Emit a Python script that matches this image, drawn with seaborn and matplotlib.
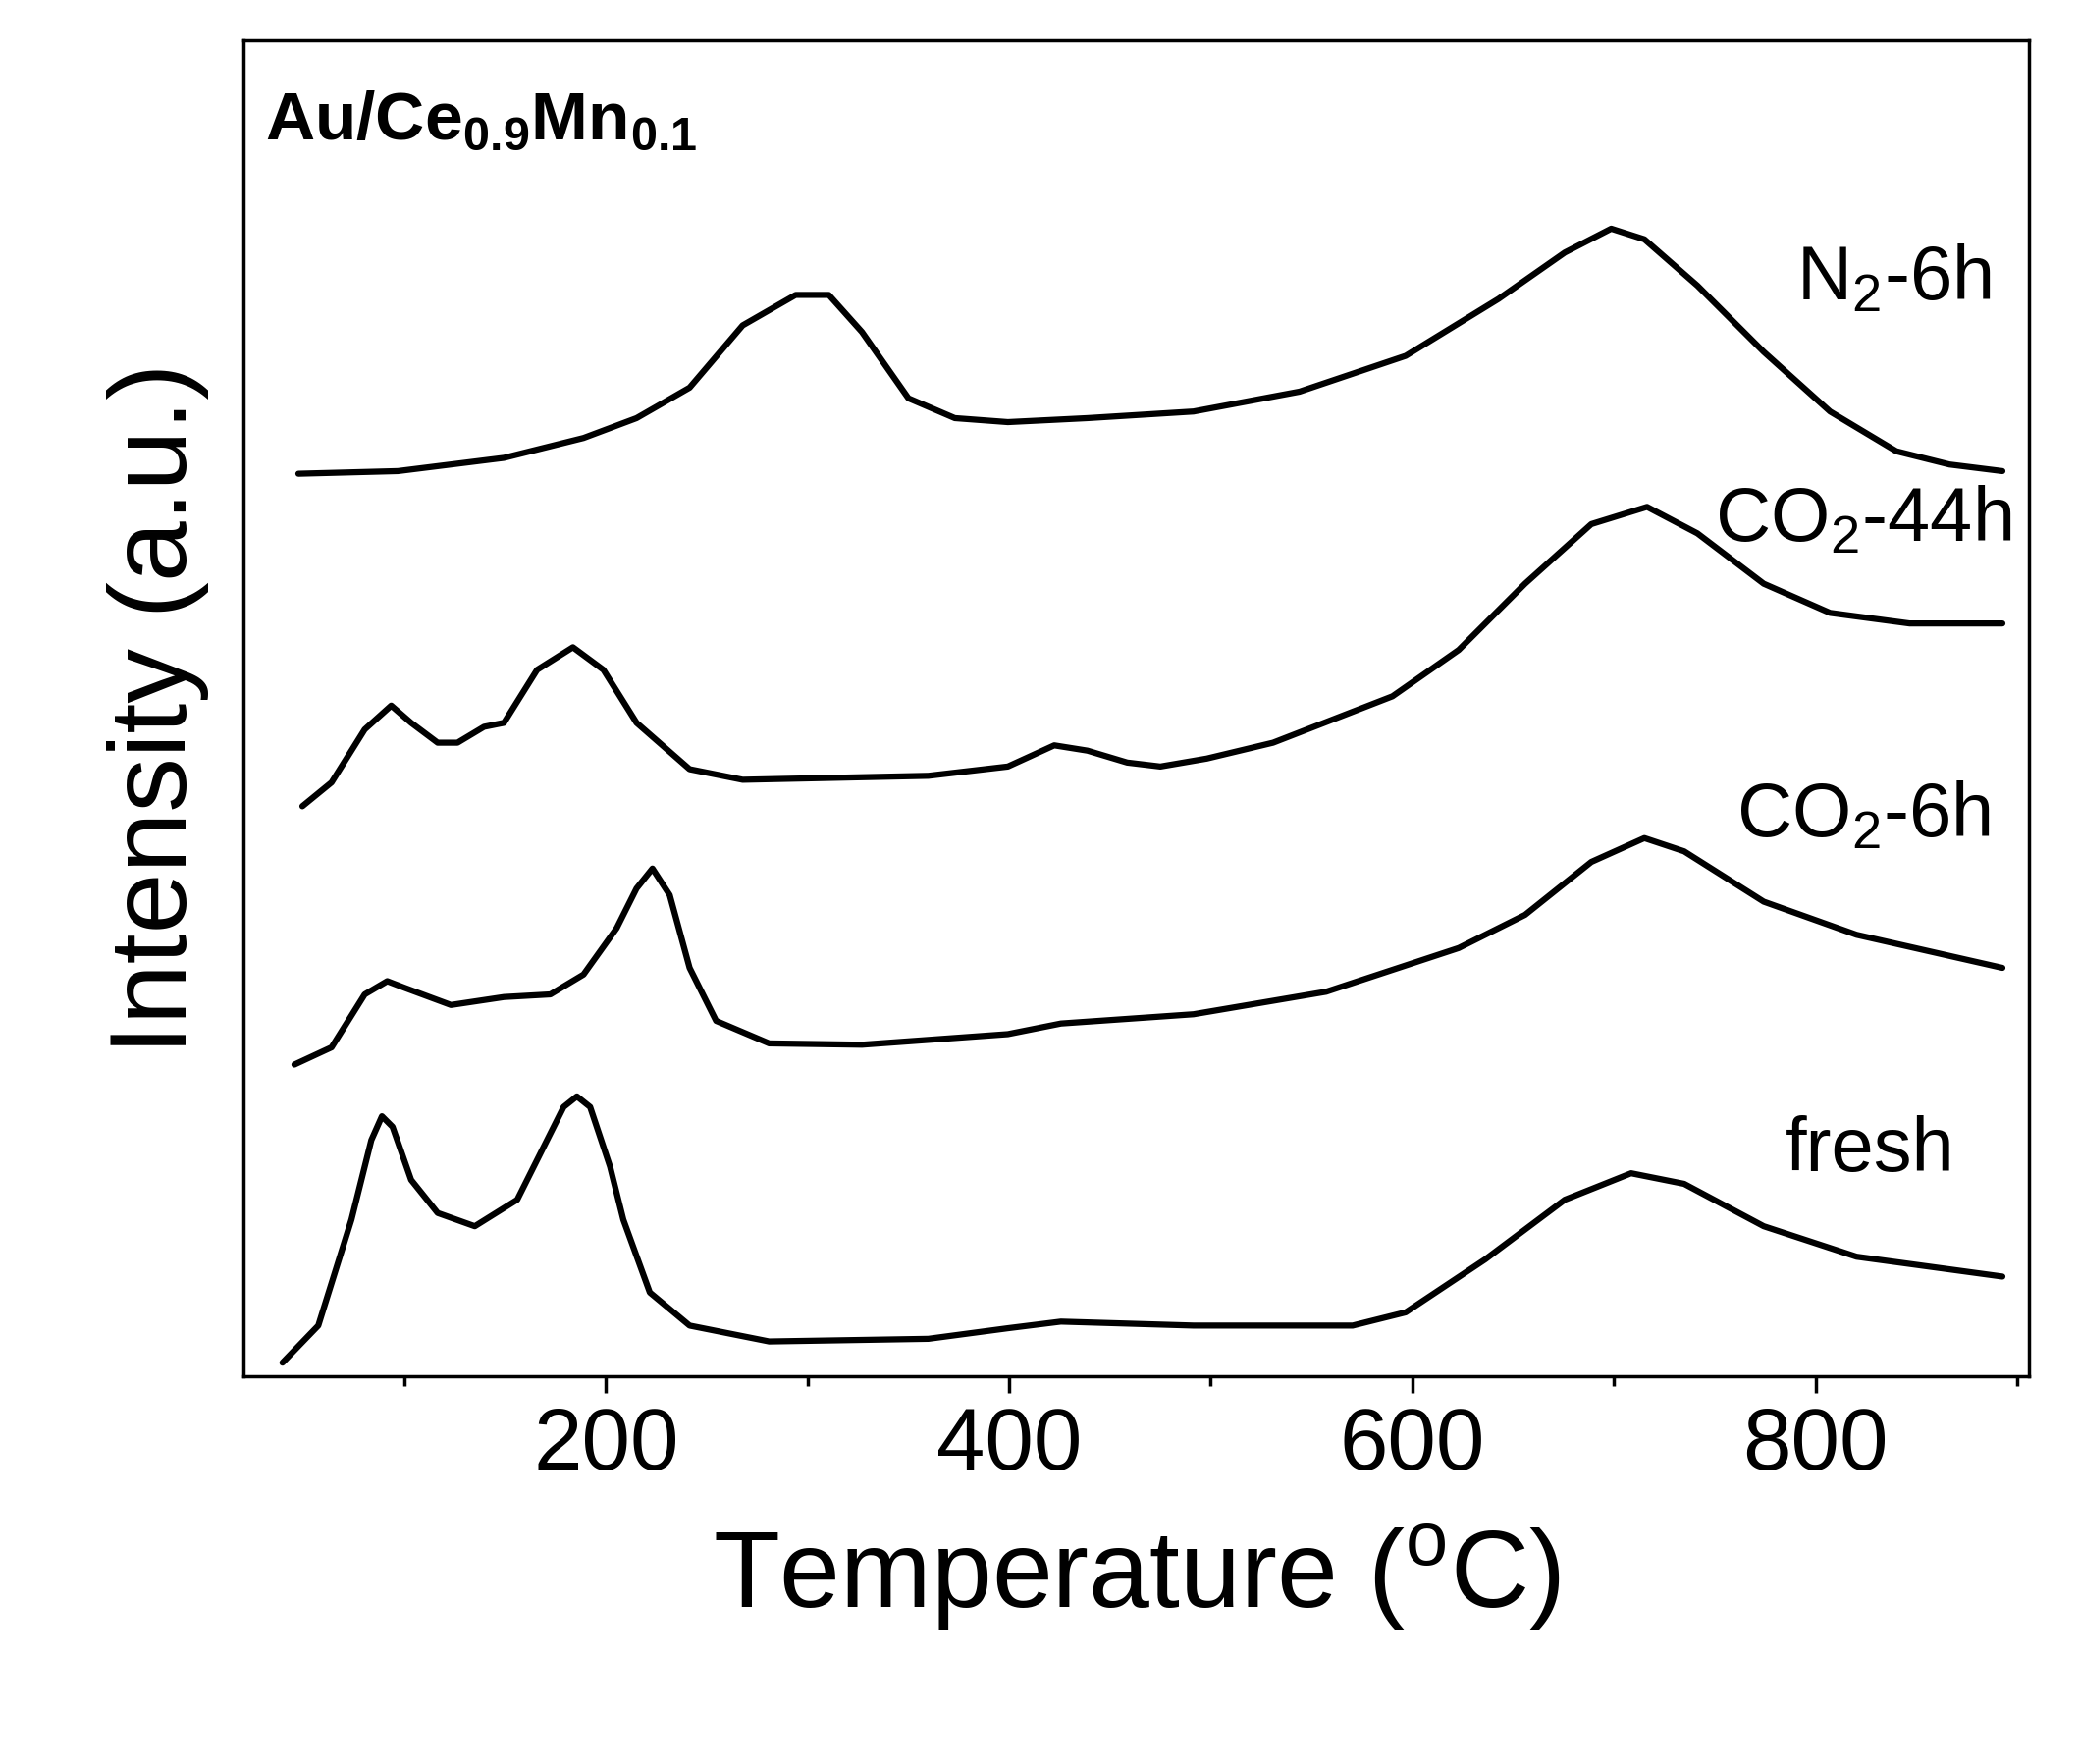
import matplotlib
matplotlib.use('Agg')
import matplotlib.pyplot as plt
import seaborn as sns
import numpy as np
import pandas as pd

# values in screen pixels, converted below
# x: temperature (C); y: offset intensity (a.u., arbitrary)
def px2t(px):
    return [(p - 153) / 1.52 for p in px]

def py2i(py):
    return [1038 - p for p in py]

fresh_px = [213, 240, 265, 280, 288, 296, 310, 330, 358, 390, 410, 425, 435, 445, 460, 470, 490, 520, 580, 700, 760, 800, 900, 1020, 1060, 1120, 1180, 1230, 1270, 1330, 1400, 1510]
fresh_py = [1028, 1000, 920, 860, 842, 850, 890, 915, 925, 905, 865, 835, 827, 835, 880, 920, 975, 1000, 1012, 1010, 1002, 997, 1000, 1000, 990, 950, 905, 885, 893, 925, 948, 963]

co2_6h_px = [222, 250, 275, 292, 305, 340, 380, 415, 440, 465, 480, 492, 505, 520, 540, 580, 650, 760, 800, 900, 1000, 1100, 1150, 1200, 1240, 1270, 1330, 1400, 1510]
co2_6h_py = [803, 790, 750, 740, 745, 758, 752, 750, 735, 700, 670, 655, 675, 730, 770, 787, 788, 780, 772, 765, 748, 715, 690, 650, 632, 642, 680, 705, 730]

co2_44h_px = [228, 250, 275, 295, 310, 330, 345, 365, 380, 405, 432, 455, 480, 520, 560, 700, 760, 795, 820, 850, 875, 910, 960, 1050, 1100, 1150, 1200, 1242, 1280, 1330, 1380, 1440, 1510]
co2_44h_py = [608, 590, 550, 532, 545, 560, 560, 548, 545, 505, 488, 505, 545, 580, 588, 585, 578, 562, 566, 575, 578, 572, 560, 525, 490, 440, 395, 382, 402, 440, 462, 470, 470]

n2_6h_px = [225, 300, 380, 440, 480, 520, 560, 600, 625, 650, 685, 720, 760, 820, 900, 980, 1060, 1130, 1180, 1215, 1240, 1280, 1330, 1380, 1430, 1470, 1510]
n2_6h_py = [357, 355, 345, 330, 315, 292, 245, 222, 222, 250, 300, 315, 318, 315, 310, 295, 268, 225, 190, 172, 180, 215, 265, 310, 340, 350, 355]

series = [
    ('fresh', fresh_px, fresh_py),
    ('CO$_2$-6h', co2_6h_px, co2_6h_py),
    ('CO$_2$-44h', co2_44h_px, co2_44h_py),
    ('N$_2$-6h', n2_6h_px, n2_6h_py),
]
labels_px = {'fresh': (1410, 868), 'CO$_2$-6h': (1405, 615), 'CO$_2$-44h': (1405, 392), 'N$_2$-6h': (1428, 210)}

sns.set_style('white')
plt.rcParams['font.family'] = ['Liberation Sans', 'DejaVu Sans']
plt.rcParams['text.color'] = 'black'
plt.rcParams['axes.labelcolor'] = 'black'
plt.rcParams['xtick.color'] = 'black'
plt.rcParams['mathtext.fontset'] = 'custom'
plt.rcParams['mathtext.rm'] = 'Liberation Sans'
plt.rcParams['mathtext.bf'] = 'Liberation Sans:bold'

fig = plt.figure(figsize=(21.18, 17.97), dpi=100)
ax = fig.add_axes([0.117, 0.22, 0.859, 0.757])

for name, px, py in series:
    df = pd.DataFrame({'T': px2t(px), 'I': py2i(py)})
    sns.lineplot(data=df, x='T', y='I', sort=False, color='black', lw=4.5, ax=ax)
    lx, ly = labels_px[name]
    ax.text(px2t([lx])[0], py2i([ly])[0], name, fontsize=56, ha='center', va='center')

ax.text(0.012, 0.94, r'Au/Ce$_{\mathbf{0.9}}$Mn$_{\mathbf{0.1}}$', transform=ax.transAxes,
        fontsize=50, fontweight='bold', ha='left', va='center')

ax.set_xlim(20, 906)
ax.set_ylim(0, 1008)
ax.set_xticks([200, 400, 600, 800])
ax.set_xticks([100, 300, 500, 700, 900], minor=True)
ax.set_yticks([])
ax.tick_params(axis='x', which='major', direction='out', length=12, width=2.5, labelsize=64, pad=10, bottom=True)
ax.tick_params(axis='x', which='minor', direction='out', length=7, width=2.5, bottom=True)
for s in ax.spines.values():
    s.set_linewidth(2.5)
    s.set_color('black')
ax.set_xlabel('Temperature ($^{\\rm o}$C)', fontsize=80, labelpad=25)
ax.set_ylabel('Intensity (a.u.)', fontsize=80, labelpad=25)

fig.savefig('out.png', dpi=100)
